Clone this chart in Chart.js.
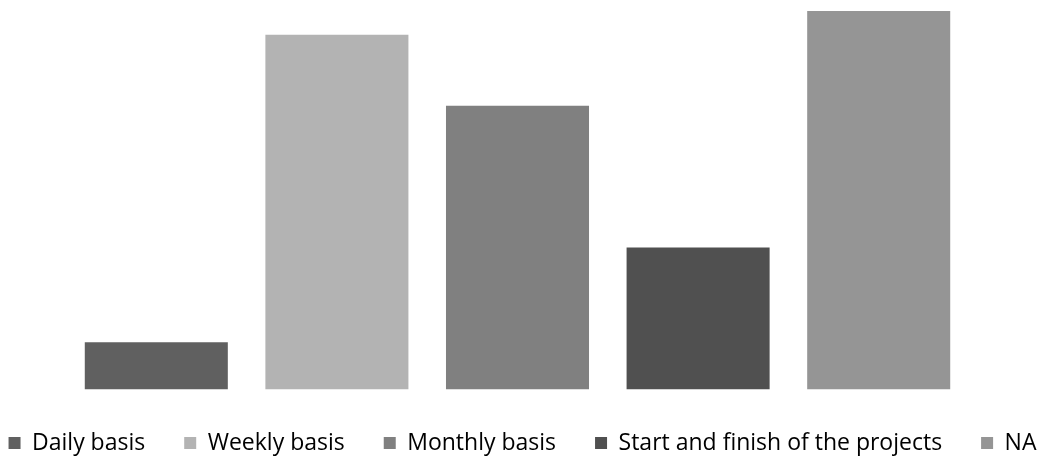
<!DOCTYPE html>
<html>
<head>
<meta charset="utf-8">
<script src="https://cdn.jsdelivr.net/npm/chart.js@4"></script>
<style>
html,body{margin:0;padding:0;background:#fff;}
#wrap{width:1045px;height:456px;position:relative;}
</style>
</head>
<body>
<div id="wrap"><canvas id="c"></canvas></div>
<script>
const categories = ["Daily basis", "Weekly basis", "Monthly basis", "Start and finish of the projects", "NA"];
const values = [2, 15, 12, 6, 16];
const barColors = ["#606060", "#b3b3b3", "#808080", "#505050", "#959595"];

const legendTweak = {
  id: 'legendTweak',
  afterInit(chart) {
    const lg = chart.legend;
    if (!lg) return;
    const f = lg.fit;
    lg.fit = function () {
      const mw = this.maxWidth;
      this.maxWidth = mw + 200;
      f.call(this);
      this.maxWidth = mw;
      this.width = mw;
      this.height = 66.5;
    };
  },
  afterLayout(chart) {
    const lg = chart.legend;
    if (!lg) return;
    lg.top += 3; lg.bottom += 3;
    lg.left -= 100; lg.right += 100; lg.width += 200;
  }
};

const hiddenAxis = (w, pos) => ({
  display: true,
  position: pos,
  min: 0,
  max: 16,
  grid: { display: false, drawTicks: false },
  border: { display: false },
  ticks: { display: false },
  afterFit: (s) => { s.width = w; }
});

const ctx = document.getElementById('c').getContext('2d');
new Chart(ctx, {
  type: 'bar',
  data: {
    labels: categories,
    datasets: [{
      data: values,
      backgroundColor: barColors,
      borderWidth: 0,
      categoryPercentage: 1,
      barPercentage: 0.792,
      yAxisID: 'y'
    }]
  },
  options: {
    responsive: true,
    maintainAspectRatio: false,
    animation: false,
    layout: { padding: { left: 0, right: 0, top: 11, bottom: 0 } },
    scales: {
      x: { display: false },
      y: hiddenAxis(66, 'left'),
      y2: hiddenAxis(76, 'right')
    },
    plugins: {
      tooltip: { enabled: false },
      legend: {
        position: 'bottom',
        labels: {
          font: { family: "'Open Sans', sans-serif", size: 23 },
          color: '#000',
          boxWidth: 12,
          boxHeight: 12,
          padding: 39,
          generateLabels: (chart) => categories.map((c, i) => ({
            text: c,
            fillStyle: barColors[i],
            strokeStyle: barColors[i],
            lineWidth: 0,
            hidden: false,
            index: i
          }))
        }
      }
    }
  },
  plugins: [legendTweak]
});
</script>
</body>
</html>
